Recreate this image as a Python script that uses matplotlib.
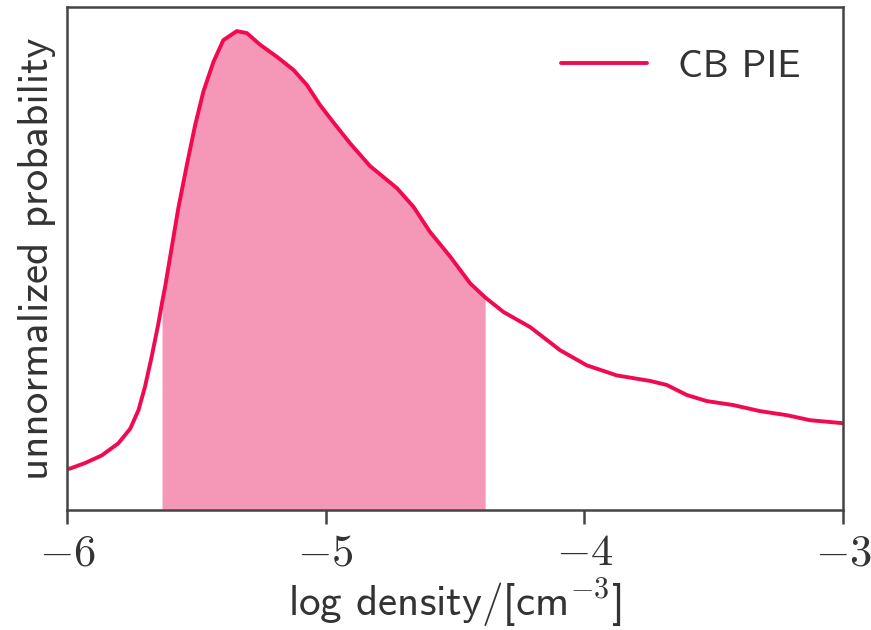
import numpy as np
import matplotlib
matplotlib.use('Agg')
import matplotlib.pyplot as plt

plt.rcParams['mathtext.fontset'] = 'cm'

# curve (log density, unnormalized probability)
log_density = [-6.0, -5.988, -5.930, -5.866, -5.802, -5.756, -5.724, -5.699, -5.673,
               -5.647, -5.633, -5.621, -5.570, -5.537, -5.505, -5.473, -5.434, -5.396,
               -5.344, -5.305, -5.254, -5.189, -5.125, -5.073, -5.022, -4.971, -4.906,
               -4.829, -4.725, -4.661, -4.597, -4.519, -4.442, -4.384, -4.313, -4.210,
               -4.094, -3.991, -3.875, -3.746, -3.682, -3.604, -3.527, -3.424, -3.321,
               -3.218, -3.128, -3.0]
probability = [0.082, 0.083, 0.094, 0.109, 0.133, 0.162, 0.199, 0.245, 0.305,
               0.371, 0.412, 0.444, 0.600, 0.686, 0.765, 0.832, 0.891, 0.934,
               0.952, 0.948, 0.925, 0.901, 0.875, 0.845, 0.805, 0.771, 0.729,
               0.684, 0.640, 0.603, 0.553, 0.504, 0.451, 0.423, 0.394, 0.364,
               0.318, 0.288, 0.268, 0.257, 0.249, 0.229, 0.217, 0.209, 0.197,
               0.189, 0.179, 0.173]
shade_lo, shade_hi = -5.633, -4.384
xticks = [-6, -5, -4, -3]

line_color = '#F20A50'
fill_color = '#F598B7'
text_color = '#333333'
sans = 'cmss10'

x = np.array(log_density)
y = np.array(probability)

fig = plt.figure(figsize=(8.71, 6.30), dpi=100)
ax = fig.add_axes([0.077, 0.19, 0.891, 0.799])

mask = (x >= shade_lo) & (x <= shade_hi)
ax.fill_between(x[mask], 0, y[mask], color=fill_color, lw=0)
ax.plot(x, y, color=line_color, lw=2.8, label='CB PIE',
        solid_joinstyle='round', solid_capstyle='round')

ax.set_xlim(-6, -3)
ax.set_ylim(0, 1)
ax.set_yticks([])
ax.set_xticks(xticks)
ax.set_xticklabels(['$-%d$' % abs(t) for t in xticks], fontsize=32, color=text_color)
ax.tick_params(axis='x', length=10, width=1.8, color='#444444', pad=5)

for s in ax.spines.values():
    s.set_linewidth(1.8)
    s.set_color('#444444')

ax.set_xlabel('log density/[cm$^{-3}$]', fontsize=31, family=sans, color=text_color, labelpad=2)
ax.set_ylabel('unnormalized probability', fontsize=31, family=sans, color=text_color, labelpad=8)

leg = ax.legend(loc='upper right', frameon=False, handlelength=2.2, handletextpad=0.8,
                prop={'family': sans, 'size': 28}, borderaxespad=0.7)
for t in leg.get_texts():
    t.set_color(text_color)

fig.savefig('out.png', dpi=100)
